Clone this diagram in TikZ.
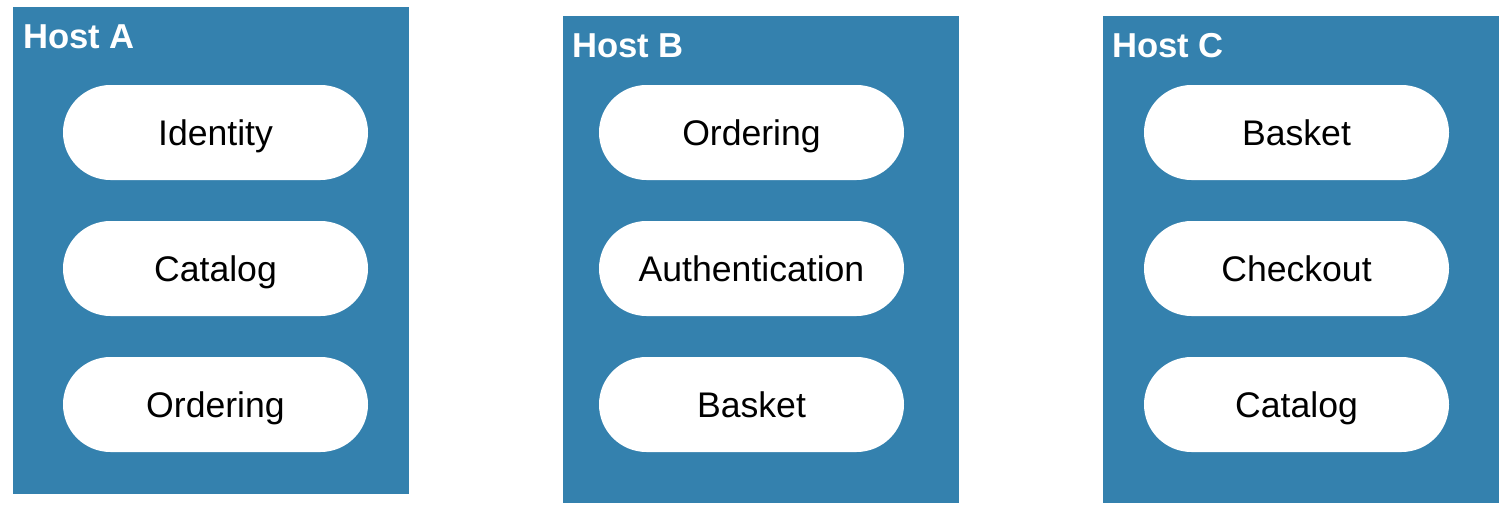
\documentclass[tikz,border=0pt]{standalone}
\usepackage{fontspec}
\setmainfont{Liberation Sans}
\definecolor{hostblue}{HTML}{3481AE}
\begin{document}
\begin{tikzpicture}[x=1pt,y=-1pt,
  hostbox/.style={fill=hostblue,draw=none},
  hosttitle/.style={anchor=base west,text=white,font=\fontsize{34.6}{40}\selectfont\bfseries,inner sep=0pt},
  pill/.style={fill=white,draw=none,rounded corners=47.5pt,minimum width=305pt,minimum height=95pt,inner sep=0pt,text height=25pt,text depth=0pt,font=\fontsize{35.6}{42}\selectfont,text=black}]
\useasboundingbox (0,0) rectangle (1508,514);
% Host A
\fill[hostbox] (13,7) rectangle (409,494);
\node[hosttitle] (ta) at (23,48) {Host A};
\node[pill] (a1) at (215.5,132.5) {Identity};
\node[pill] (a2) at (215.5,268.5) {Catalog};
\node[pill] (a3) at (215.5,404.5) {Ordering};
% Host B
\fill[hostbox] (563,16) rectangle (959,503);
\node[hosttitle] (tb) at (572,57) {Host B};
\node[pill] (b1) at (751.5,132.5) {Ordering};
\node[pill] (b2) at (751.5,268.5) {Authentication};
\node[pill] (b3) at (751.5,404.5) {Basket};
% Host C
\fill[hostbox] (1103,16) rectangle (1499,503);
\node[hosttitle] (tc) at (1112,57) {Host C};
\node[pill] (c1) at (1296.5,132.5) {Basket};
\node[pill] (c2) at (1296.5,268.5) {Checkout};
\node[pill] (c3) at (1296.5,404.5) {Catalog};
\end{tikzpicture}
\end{document}
